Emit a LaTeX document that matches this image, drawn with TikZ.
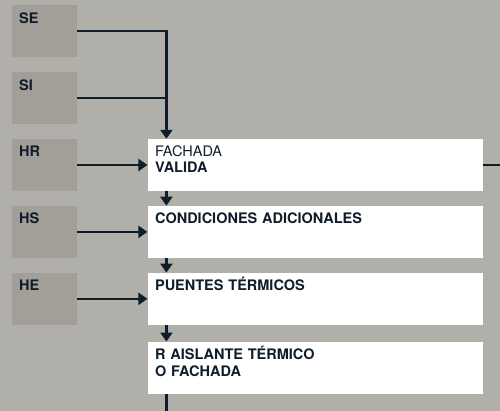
\documentclass[tikz,border=0pt]{standalone}
\usepackage{fontspec}
\setmainfont{TeX Gyre Heros}
\usetikzlibrary{positioning, calc, arrows.meta}
\definecolor{fondo}{HTML}{B1AFA9}
\definecolor{caja}{HTML}{A19F97}
\definecolor{tinta}{HTML}{0F1D2B}

\begin{document}
\begin{tikzpicture}[x=1pt, y=1pt, node distance=14.5pt,
        exigencia/.style={fill=caja, anchor=north west, minimum width=65pt, minimum height=52pt,
            text width=51pt, align=left, inner xsep=7pt, inner ysep=8pt, text height=10pt, text depth=26pt,
            font=\fontsize{14.5}{16}\selectfont\bfseries, text=tinta},
        paso/.style={exigencia, fill=white, minimum width=335pt, text width=320pt, inner xsep=7.5pt},
        flecha/.style={-{Triangle[width=12pt,length=9pt]}, line width=2.4pt, draw=tinta}]
        \fill[fondo] (0,0) rectangle (500,-411);
        \useasboundingbox (0,0) rectangle (500,-411);

        \node[exigencia] (SE) at (12,-5) {SE};
        \node[exigencia, below=of SE] (SI) {SI};
        \node[exigencia, below=of SI] (HR) {HR};
        \node[exigencia, below=of HR] (HS) {HS};
        \node[exigencia, below=of HS] (HE) {HE};

        \node[paso, right=70pt of HR] (fachada) {{\mdseries FACHADA}\\VALIDA};
        \node[paso, below=of fachada] (condiciones) {CONDICIONES ADICIONALES};
        \node[paso, below=of condiciones] (puentes) {PUENTES TÉRMICOS};
        \node[paso, below=16.5pt of puentes, font=\fontsize{14.5}{17}\selectfont\bfseries] (aislante) {R AISLANTE TÉRMICO\\O FACHADA};

        \coordinate (bus) at ($(fachada.north west)+(19,0)$);
        \coordinate (salida) at ($(fachada.east)+(18,0)$);
        \coordinate (cola) at ($(aislante.south west -| bus)+(0,-19)$);

        \draw[flecha] (SE.east) -| (bus);
        \draw[flecha, -] (SI.east) -- (SI.east -| bus);
        \draw[flecha] (HR.east) -- (fachada.west);
        \draw[flecha] (HS.east) -- (condiciones.west);
        \draw[flecha] (HE.east) -- (puentes.west);

        \draw[flecha] (fachada.south west -| bus) -- (condiciones.north west -| bus);
        \draw[flecha] (condiciones.south west -| bus) -- (puentes.north west -| bus);
        \draw[flecha] (puentes.south west -| bus) -- (aislante.north west -| bus);
        \draw[flecha, -] (aislante.south west -| bus) -- (cola);
        \draw[flecha, -] (fachada.east) -- (salida);
    \end{tikzpicture}
\end{document}
